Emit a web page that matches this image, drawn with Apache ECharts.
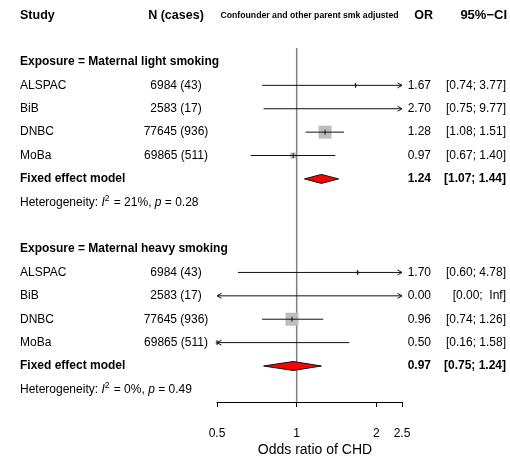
<!DOCTYPE html>
<html>
<head>
<meta charset="utf-8">
<script src="https://cdn.jsdelivr.net/npm/echarts@6/dist/echarts.min.js"></script>
<style>
  html, body { margin: 0; padding: 0; background: #fff; }
  #chart { width: 510px; height: 458px; }
</style>
</head>
<body>
<div id="chart"></div>
<script>
// --- data ---
const studies = ['ALSPAC', 'BiB', 'DNBC', 'MoBa'];
const nCases = ['6984 (43)', '2583 (17)', '77645 (936)', '69865 (511)'];
const groupLabels = ['Exposure = Maternal light smoking', 'Exposure = Maternal heavy smoking'];

const lightOR = [1.67, 2.70, 1.28, 0.97];
const lightLow = [0.74, 0.75, 1.08, 0.67];
const lightHigh = [3.77, 9.77, 1.51, 1.40];
const lightWeight = [3.4, 1.3, 79.0, 16.3];
const lightFixed = [1.24, 1.07, 1.44];   // OR, lower, upper
const lightHet = ['21%', '0.28'];

const heavyOR = [1.70, 0.00, 0.96, 0.50];
const heavyLow = [0.60, 0.00, 0.74, 0.16];
const heavyHigh = [4.78, Infinity, 1.26, 1.58];
const heavyWeight = [5.6, 0, 89.6, 4.9];
const heavyFixed = [0.97, 0.75, 1.24];
const heavyHet = ['0%', '0.49'];

const xTicks = [0.5, 1, 2, 2.5];

const AXIS_MIN = 0.5, AXIS_MAX = 2.5;
const FONT = '"Liberation Sans", Arial, Helvetica, sans-serif';

// build the table rows (row index = vertical slot)
function buildGroup(start, label, or, lo, hi, w, fixed, het) {
  const rows = [{ row: start, kind: 'group', label: label }];
  const wmax = Math.max.apply(null, w);
  studies.forEach(function (s, i) {
    rows.push({ row: start + 1 + i, kind: 'study', label: s, n: nCases[i],
      or: or[i], lo: lo[i], hi: hi[i], w: w[i], wmax: wmax });
  });
  rows.push({ row: start + 5, kind: 'fixed', label: 'Fixed effect model',
    or: fixed[0], lo: fixed[1], hi: fixed[2] });
  rows.push({ row: start + 6, kind: 'het', i2: het[0], p: het[1] });
  return rows;
}
const rows = [{ row: 0, kind: 'header' }]
  .concat(buildGroup(2, groupLabels[0], lightOR, lightLow, lightHigh, lightWeight, lightFixed, lightHet))
  .concat(buildGroup(10, groupLabels[1], heavyOR, heavyLow, heavyHigh, heavyWeight, heavyFixed, heavyHet));
const markRows = rows.filter(function (r) { return r.kind === 'study' || r.kind === 'fixed'; });

function fmt(v) { return v === Infinity ? 'Inf' : v.toFixed(2); }
function fmtCI(lo, hi) {
  const h = fmt(hi);
  return '[' + fmt(lo) + '; ' + (h.length < 4 ? ' ' + h : h) + ']';
}
function clamp(v) { return Math.min(AXIS_MAX, Math.max(AXIS_MIN, v)); }

function renderMarks(params, api) {
  const r = markRows[params.dataIndex];
  const y = api.coord([1, r.row])[1];
  const xLo = api.coord([clamp(r.lo), r.row])[0];
  const xHi = api.coord([clamp(r.hi), r.row])[0];
  const ink = '#111';
  const children = [];
  if (r.kind === 'fixed') {
    const xOr = api.coord([r.or, r.row])[0];
    children.push({ type: 'polygon',
      shape: { points: [[xLo, y], [xOr, y - 4.5], [xHi, y], [xOr, y + 4.5]] },
      style: { fill: '#ff0000', stroke: ink, lineWidth: 1 } });
    return { type: 'group', children: children };
  }
  const inRange = r.or >= AXIS_MIN && r.or <= AXIS_MAX;
  if (inRange && r.w > 0) {
    const xOr = api.coord([r.or, r.row])[0];
    const s = 13 * Math.sqrt(r.w / r.wmax);
    children.push({ type: 'rect', shape: { x: xOr - s / 2, y: y - s / 2, width: s, height: s },
      style: { fill: '#bebebe' } });
  }
  children.push({ type: 'line', shape: { x1: xLo, y1: y, x2: xHi, y2: y },
    style: { stroke: ink, lineWidth: 1 } });
  if (r.hi > AXIS_MAX) {
    children.push({ type: 'polyline', shape: { points: [[xHi - 4.5, y - 2.5], [xHi, y], [xHi - 4.5, y + 2.5]] },
      style: { stroke: ink, lineWidth: 1, fill: null } });
  }
  if (r.lo < AXIS_MIN) {
    children.push({ type: 'polyline', shape: { points: [[xLo + 4.5, y - 2.5], [xLo, y], [xLo + 4.5, y + 2.5]] },
      style: { stroke: ink, lineWidth: 1, fill: null } });
  }
  if (inRange) {
    const xOr = api.coord([r.or, r.row])[0];
    children.push({ type: 'line', shape: { x1: xOr, y1: y - 2.5, x2: xOr, y2: y + 2.5 },
      style: { stroke: ink, lineWidth: 1 } });
  }
  return { type: 'group', children: children };
}

// fixed text column positions (px)
const COL_STUDY = 20, COL_N = 176, COL_MID = 309.5, COL_OR = 431, COL_CI = 506;

function txt(x, y, text, align, size, bold) {
  return { type: 'text', x: x, y: y, style: { text: text, align: align, verticalAlign: 'middle',
    fontSize: size, fontWeight: bold ? 'bold' : 'normal', fontFamily: FONT, fill: '#000' } };
}

function renderText(params, api) {
  const r = rows[params.dataIndex];
  const y = api.coord([1, r.row])[1];
  const c = [];
  if (r.kind === 'header') {
    c.push(txt(COL_STUDY, y, 'Study', 'left', 12.5, true));
    c.push(txt(COL_N, y, 'N (cases)', 'center', 12.5, true));
    c.push(txt(COL_MID, y, 'Confounder and other parent smk adjusted', 'center', 8.7, true));
    c.push(txt(COL_OR + 2, y, 'OR', 'right', 12.5, true));
    c.push(txt(COL_CI + 1, y, '95%\u2212CI', 'right', 13, true));
  } else if (r.kind === 'group') {
    c.push(txt(COL_STUDY, y, r.label, 'left', 12, true));
  } else if (r.kind === 'study' || r.kind === 'fixed') {
    const b = r.kind === 'fixed';
    c.push(txt(COL_STUDY, y, r.label, 'left', 12, b));
    if (r.n) c.push(txt(COL_N, y, r.n, 'center', 12, false));
    c.push(txt(COL_OR, y, fmt(r.or), 'right', 12, b));
    c.push(txt(COL_CI, y, fmtCI(r.lo, r.hi), 'right', 12, b));
  } else if (r.kind === 'het') {
    c.push({ type: 'text', x: COL_STUDY, y: y, style: {
      text: '{a|Heterogeneity: }{i|I}{s|2}{a| = ' + r.i2 + ', }{i|p}{a| = ' + r.p + '}',
      verticalAlign: 'middle', align: 'left', fill: '#000', fontFamily: FONT,
      rich: {
        a: { fontSize: 12, fontFamily: FONT, fill: '#000', lineHeight: 16 },
        i: { fontSize: 12, fontFamily: FONT, fill: '#000', fontStyle: 'italic', lineHeight: 16 },
        s: { fontSize: 8.5, fontFamily: FONT, fill: '#000', verticalAlign: 'top', lineHeight: 16, padding: [0, 1, 0, 0] }
      } } });
  }
  return { type: 'group', children: c };
}

const chart = echarts.init(document.getElementById('chart'), null, { renderer: 'canvas' });
chart.setOption({
  animation: false,
  backgroundColor: '#fff',
  grid: { left: 217, right: 108, top: 0, bottom: 56, containLabel: false, outerBoundsMode: 'none' },
  xAxis: {
    type: 'log', logBase: 2, min: AXIS_MIN, max: AXIS_MAX,
    axisLine: { show: true, onZero: false, lineStyle: { color: '#000', width: 1 } },
    axisTick: { show: true, length: 5, customValues: xTicks, lineStyle: { color: '#000', width: 1 } },
    axisLabel: { customValues: xTicks, margin: 26, fontSize: 12, color: '#000', fontFamily: FONT,
      formatter: function (v) { return String(+(+v).toFixed(2)); } },
    splitLine: { show: false },
    minorTick: { show: false }
  },
  yAxis: { type: 'value', inverse: true, min: -0.65, max: 16.54, show: false },
  graphic: [{ type: 'text', x: 315, y: 450,
    style: { text: 'Odds ratio of CHD', align: 'center', verticalAlign: 'middle',
      fontSize: 14, fontFamily: FONT, fill: '#000' } }],
  series: [
    { type: 'line', data: [[1, 1.4], [1, 16.54]], showSymbol: false, silent: true,
      lineStyle: { color: '#808080', width: 1.5 }, z: 1 },
    { type: 'custom', data: markRows.map(function (r) { return [1, r.row]; }),
      encode: { x: 0, y: 1 }, renderItem: renderMarks, clip: false, silent: true, z: 3 },
    { type: 'custom', data: rows.map(function (r) { return [1, r.row]; }),
      encode: { x: 0, y: 1 }, renderItem: renderText, clip: false, silent: true, z: 4 }
  ]
});
</script>
</body>
</html>
